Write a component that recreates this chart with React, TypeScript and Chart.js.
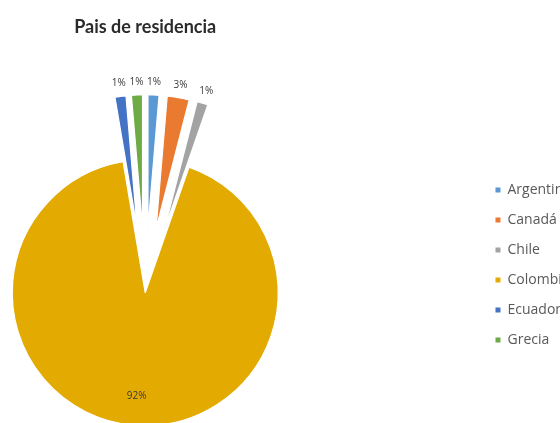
import React, { useEffect, useRef } from 'react';
import { Chart, registerables, layouts } from 'chart.js';

Chart.register(...registerables);

// ---- data ----
const chartTitle = 'Pais de residencia';
const categories = ['Argentina', 'Canadá', 'Chile', 'Colombia', 'Ecuador', 'Grecia'];
const counts = [1, 2, 1, 69, 1, 1];
const sliceColors = ['#5A99D4', '#EA7A30', '#A3A3A3', '#E3AA02', '#4472C4', '#6EAB45'];

// ---- layout / style ----
const CANVAS_W = 581;
const CANVAS_H = 530;
const PIE_RADIUS = 133;
const EXPLODE_PX = 65;
const SPACER_W = 189;

const explodePlugin = {
  id: 'explodeSlices',
  beforeDatasetDraw(chart: any, args: any) {
    const meta = args.meta;
    const ctx = chart.ctx;
    const data = chart.data.datasets[0].data as number[];
    const max = Math.max(...data);
    meta.data.forEach((arc: any, i: number) => {
      const { startAngle, endAngle } = arc.getProps(['startAngle', 'endAngle'], true);
      const mid = (startAngle + endAngle) / 2;
      const d = data[i] === max ? 0 : EXPLODE_PX;
      ctx.save();
      ctx.translate(Math.cos(mid) * d, Math.sin(mid) * d);
      arc.draw(ctx);
      ctx.restore();
    });
    return false;
  },
};

const labelPlugin = {
  id: 'pctLabels',
  afterDatasetsDraw(chart: any) {
    const meta = chart.getDatasetMeta(0);
    const data = chart.data.datasets[0].data as number[];
    const total = data.reduce((a, b) => a + b, 0);
    const max = Math.max(...data);
    const ctx = chart.ctx;
    ctx.save();
    ctx.font = '10px "Open Sans"';
    ctx.fillStyle = '#3a3a3a';
    ctx.textAlign = 'center';
    ctx.textBaseline = 'middle';
    meta.data.forEach((arc: any, i: number) => {
      const { x, y, startAngle, endAngle, outerRadius } = arc.getProps(
        ['x', 'y', 'startAngle', 'endAngle', 'outerRadius'],
        true
      );
      const mid = (startAngle + endAngle) / 2;
      const exploded = data[i] !== max;
      const r = exploded ? outerRadius + EXPLODE_PX + 13 : outerRadius * 0.78;
      const txt = Math.round((data[i] / total) * 100) + '%';
      ctx.fillText(txt, x + Math.cos(mid) * r, y + Math.sin(mid) * r);
    });
    ctx.restore();
  },
};

// empty layout box between the pie and the legend
const spacerPlugin = {
  id: 'legendSpacer',
  beforeInit(chart: any) {
    const box: any = {
      position: 'right',
      weight: 0,
      fullSize: false,
      options: {},
      width: SPACER_W,
      height: 0,
      isHorizontal() {
        return false;
      },
      update(_maxW: number, maxH: number) {
        box.width = SPACER_W;
        box.height = maxH;
      },
      draw() {},
    };
    layouts.addBox(chart, box);
  },
};

export default function App() {
  const ref = useRef<HTMLCanvasElement>(null);

  useEffect(() => {
    if (!ref.current) return;
    const chart = new Chart(ref.current, {
      type: 'pie',
      data: {
        labels: categories,
        datasets: [
          {
            data: counts,
            backgroundColor: sliceColors,
            borderColor: '#ffffff',
            borderWidth: 1.2,
          },
        ],
      },
      options: {
        responsive: false,
        devicePixelRatio: 1,
        animation: false,
        events: [],
        radius: PIE_RADIUS,
        layout: { padding: 0 },
        plugins: {
          tooltip: { enabled: false },
          title: {
            display: true,
            text: chartTitle,
            fullSize: false,
            color: '#2b2b2b',
            font: { family: 'Lato', weight: 'bold', size: 18, lineHeight: 1.2 },
            padding: { top: 16, bottom: 18 },
          },
          legend: {
            display: true,
            position: 'right',
            align: 'center',
            labels: {
              boxWidth: 5,
              boxHeight: 5,
              padding: 16,
              color: '#595959',
              font: { family: 'Open Sans', size: 14 },
              generateLabels: (c: any) =>
                (c.data.labels as string[]).map((t, i) => ({
                  text: t,
                  fillStyle: sliceColors[i],
                  strokeStyle: sliceColors[i],
                  lineWidth: 0,
                  hidden: false,
                  index: i,
                  fontColor: '#595959',
                })),
            },
          },
        },
      } as any,
      plugins: [spacerPlugin, explodePlugin, labelPlugin],
    });
    return () => chart.destroy();
  }, []);

  return (
    <div
      style={{
        position: 'absolute',
        left: 0,
        top: 0,
        width: 560,
        height: 423,
        overflow: 'hidden',
        background: '#ffffff',
      }}
    >
      <canvas
        ref={ref}
        width={CANVAS_W}
        height={CANVAS_H}
        style={{ display: 'block', width: CANVAS_W, height: CANVAS_H }}
      />
    </div>
  );
}
